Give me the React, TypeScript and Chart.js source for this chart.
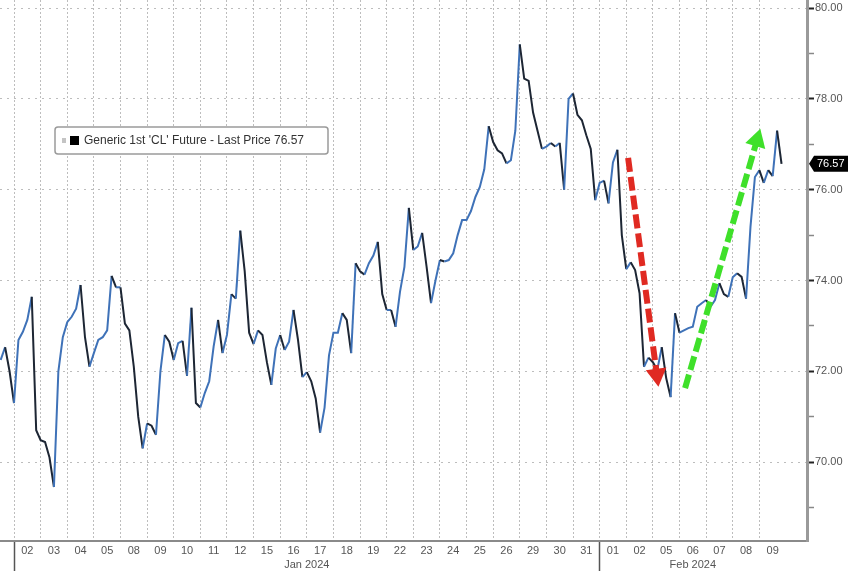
import React, { useEffect, useRef } from 'react';
import { Chart, registerables } from 'chart.js';

Chart.register(...registerables);

// ---------- data ----------
const dayLabels = ['02', '03', '04', '05', '08', '09', '10', '11', '12', '15', '16', '17', '18', '19', '22', '23', '24', '25', '26', '29', '30', '31', '01', '02', '05', '06', '07', '08', '09'];
const months = ['Jan 2024', 'Feb 2024'];
const monthStartDays = [0, 22];
const startDay = -0.5;
const samplesPerDay = 6;
const prices = [
  72.25, 72.53, 72.0, 71.3, 72.69, 72.87,
  73.13, 73.64, 70.7, 70.48, 70.44, 70.1,
  69.45, 72.0, 72.75, 73.08, 73.2, 73.38,
  73.9, 72.75, 72.1, 72.4, 72.69, 72.75,
  72.9, 74.1, 73.85, 73.85, 73.05, 72.9,
  72.1, 71.0, 70.3, 70.85, 70.8, 70.6,
  72.0, 72.8, 72.65, 72.25, 72.62, 72.67,
  71.9, 73.4, 71.3, 71.2, 71.52, 71.78,
  72.55, 73.13, 72.4, 72.8, 73.7, 73.6,
  75.1, 74.2, 72.85, 72.6, 72.9, 72.8,
  72.2, 71.7, 72.5, 72.8, 72.47, 72.65,
  73.35, 72.7, 71.87, 71.98, 71.78, 71.4,
  70.65, 71.2, 72.35, 72.85, 72.85, 73.28,
  73.13, 72.4, 74.38, 74.2, 74.13, 74.38,
  74.55, 74.85, 73.7, 73.35, 73.35, 72.98,
  73.75, 74.3, 75.6, 74.67, 74.75, 75.05,
  74.3, 73.5, 74.0, 74.45, 74.42, 74.45,
  74.6, 75.0, 75.33, 75.33, 75.53, 75.84,
  76.06, 76.45, 77.4, 77.05, 76.87, 76.8,
  76.58, 76.65, 77.3, 79.2, 78.45, 78.4,
  77.7, 77.3, 76.9, 76.95, 77.03, 76.95,
  77.03, 76.0, 78.0, 78.12, 77.65, 77.53,
  77.2, 76.9, 75.77, 76.15, 76.2, 75.7,
  76.6, 76.88, 75.0, 74.25, 74.4, 74.23,
  73.72, 72.1, 72.3, 72.2, 72.03, 72.53,
  71.85, 71.43, 73.28, 72.85, 72.9, 72.95,
  72.98, 73.42, 73.5, 73.57, 73.42, 73.57,
  73.94, 73.7, 73.64, 74.07, 74.16, 74.08,
  73.6, 75.18, 76.28, 76.43, 76.15, 76.43,
  76.3, 77.3, 76.57,
];
const lastPrice = 76.57;
const yMajorTicks = [70, 72, 74, 76, 78, 80];
const yMinorTicks = [69, 71, 73, 75, 77, 79];
const redArrow = [{ x: 23.07, y: 76.7 }, { x: 24.15, y: 71.92 }];
const greenArrow = [{ x: 25.21, y: 71.63 }, { x: 27.91, y: 77.09 }];
const X_MIN = -0.526;
const X_MAX = 29.79;
const Y_MIN = 68.26;
const Y_MAX = 80.18;
const legendText = `Generic 1st 'CL' Future - Last Price ${lastPrice}`;

// ---------- helpers ----------
const FONT = "'Liberation Sans', Arial, sans-serif";
const GRID = '#bdbdbd';
const UP = '#3f72b8';
const DOWN = '#1d2634';

type XTick = { grid: boolean; sep: boolean; lines: string[] };
const xTickMap = new Map<number, XTick>();
const tk = (v: number) => Math.round(v * 100);
function xTick(v: number): XTick {
  let t = xTickMap.get(tk(v));
  if (!t) {
    t = { grid: false, sep: false, lines: [''] };
    xTickMap.set(tk(v), t);
  }
  return t;
}
dayLabels.forEach((d, i) => {
  const b = xTick(i);
  b.grid = true;
  b.sep = monthStartDays.includes(i);
  xTick(i + 0.5).lines = [d];
});
months.forEach((m, j) => {
  const s = monthStartDays[j];
  const e = j + 1 < monthStartDays.length ? monthStartDays[j + 1] : dayLabels.length;
  const t = xTick((s + e) / 2);
  t.lines = [t.lines[0], m];
});
const xTickValues = [...xTickMap.keys()].sort((a, b) => a - b).map((v) => v / 100);

function arrowRotation(ctx: any) {
  const c = ctx.chart;
  const d = ctx.dataset.data;
  const xs = c.scales.x;
  const ys = c.scales.y;
  const dx = xs.getPixelForValue(d[1].x) - xs.getPixelForValue(d[0].x);
  const dy = ys.getPixelForValue(d[1].y) - ys.getPixelForValue(d[0].y);
  return (Math.atan2(dy, dx) * 180) / Math.PI + 90;
}

const overlayPlugin = {
  id: 'overlay',
  afterDraw(chart: any) {
    const ctx = chart.ctx;
    const a = chart.chartArea;
    // legend box
    ctx.save();
    const lx = a.left + 55;
    const ly = a.top + 127;
    const lw = 273;
    const lh = 27;
    ctx.beginPath();
    ctx.roundRect(lx, ly, lw, lh, 3);
    ctx.fillStyle = '#ffffff';
    ctx.fill();
    ctx.lineWidth = 1.5;
    ctx.strokeStyle = '#9a9a9a';
    ctx.stroke();
    ctx.fillStyle = '#c4c4c4';
    ctx.fillRect(lx + 7, ly + 11, 4, 5);
    ctx.fillStyle = '#000000';
    ctx.fillRect(lx + 15, ly + 9, 9, 9);
    ctx.fillStyle = '#333333';
    ctx.font = `12px ${FONT}`;
    ctx.textBaseline = 'middle';
    ctx.textAlign = 'left';
    ctx.fillText(legendText, lx + 29, ly + lh / 2 + 0.5);
    // last price tag
    const ys = chart.scales.y;
    const py = ys.getPixelForValue(lastPrice);
    const x0 = ys.left + 2;
    ctx.beginPath();
    ctx.moveTo(x0, py);
    ctx.lineTo(x0 + 5, py - 8);
    ctx.lineTo(chart.width, py - 8);
    ctx.lineTo(chart.width, py + 8);
    ctx.lineTo(x0 + 5, py + 8);
    ctx.closePath();
    ctx.fillStyle = '#000000';
    ctx.fill();
    ctx.fillStyle = '#ffffff';
    ctx.font = `11px ${FONT}`;
    ctx.fillText(lastPrice.toFixed(2), x0 + 8, py + 0.5);
    ctx.restore();
  },
};

export default function App() {
  const ref = useRef<HTMLCanvasElement>(null);
  useEffect(() => {
    const canvas = ref.current;
    if (!canvas) return;
    const priceData = prices.map((p, i) => ({ x: startDay + i / samplesPerDay, y: p }));
    const arrowStyle = {
      borderWidth: 6,
      borderDash: [14, 5],
      borderCapStyle: 'butt',
      pointRadius: [0, 12],
      pointStyle: 'triangle',
      pointRotation: arrowRotation,
      pointBorderWidth: 0,
      order: 0,
    };
    const config: any = {
      type: 'line',
      data: {
        datasets: [
          { ...arrowStyle, data: redArrow, borderColor: '#e02a22', backgroundColor: '#e02a22' },
          { ...arrowStyle, data: greenArrow, borderColor: '#3fe02a', backgroundColor: '#3fe02a' },
          {
            data: priceData,
            borderColor: UP,
            borderWidth: 2,
            pointRadius: 0,
            tension: 0,
            order: 1,
            segment: {
              borderColor: (c: any) => (c.p1.parsed.y < c.p0.parsed.y ? DOWN : UP),
            },
          },
        ],
      },
      options: {
        responsive: false,
        devicePixelRatio: 1,
        animation: false,
        events: [],
        layout: { padding: 0, autoPadding: false },
        plugins: { legend: { display: false }, tooltip: { enabled: false } },
        scales: {
          x: {
            type: 'linear',
            position: 'bottom',
            min: X_MIN,
            max: X_MAX,
            afterBuildTicks: (s: any) => {
              s.ticks = xTickValues.map((v) => ({ value: v }));
            },
            afterFit: (s: any) => {
              s.height = 30;
              s.paddingLeft = 0;
              s.paddingRight = 0;
            },
            ticks: {
              autoSkip: false,
              maxRotation: 0,
              minRotation: 0,
              padding: -27,
              color: '#555555',
              font: { family: FONT, size: 11, lineHeight: 1.25 },
              callback: (v: number) => {
                const t = xTickMap.get(tk(v));
                if (!t) return '';
                return t.lines.length === 1 ? t.lines[0] : t.lines;
              },
            },
            grid: {
              display: true,
              drawOnChartArea: true,
              drawTicks: true,
              tickLength: 30,
              lineWidth: 1,
              color: (c: any) => (c.tick && xTickMap.get(tk(c.tick.value))?.grid ? GRID : 'transparent'),
              tickColor: (c: any) => (c.tick && xTickMap.get(tk(c.tick.value))?.sep ? '#555555' : 'transparent'),
              tickWidth: 1.5,
            },
            border: { display: true, color: '#8a8a8a', width: 2, dash: [2, 2] },
          },
          y: {
            type: 'linear',
            position: 'right',
            min: Y_MIN,
            max: Y_MAX,
            afterBuildTicks: (s: any) => {
              s.ticks = [...yMinorTicks, ...yMajorTicks].sort((a, b) => a - b).map((v) => ({ value: v }));
            },
            afterFit: (s: any) => {
              s.width = 41;
              s.paddingTop = 0;
              s.paddingBottom = 0;
            },
            ticks: {
              autoSkip: false,
              padding: 1,
              color: '#555555',
              font: { family: FONT, size: 11 },
              callback: (v: number) => (yMajorTicks.includes(v) ? v.toFixed(2) : ''),
            },
            grid: {
              display: true,
              drawTicks: true,
              tickLength: 7,
              lineWidth: 1,
              color: (c: any) => (c.tick && yMajorTicks.includes(c.tick.value) ? GRID : 'transparent'),
              tickColor: (c: any) => (c.tick && yMajorTicks.includes(c.tick.value) ? '#222222' : '#888888'),
              tickWidth: (c: any) => (c.tick && yMajorTicks.includes(c.tick.value) ? 2 : 1.5),
            },
            border: { display: true, color: '#9a9a9a', width: 3, dash: [2, 5] },
          },
        },
      },
      plugins: [overlayPlugin],
    };
    const chart = new Chart(canvas, config);
    return () => chart.destroy();
  }, []);
  return (
    <div style={{ position: 'absolute', left: 0, top: 0, width: 848, height: 571, background: '#ffffff' }}>
      <canvas ref={ref} width={848} height={571} style={{ display: 'block' }} />
    </div>
  );
}
